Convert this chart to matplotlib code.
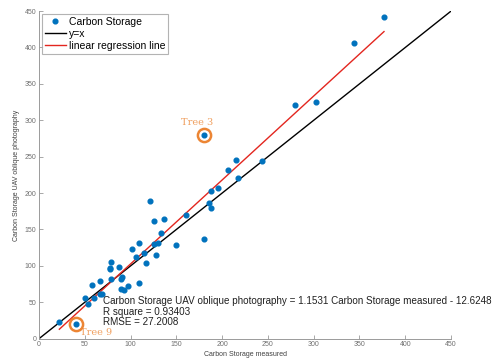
import matplotlib
matplotlib.use("Agg")
import matplotlib.pyplot as plt
import numpy as np

plt.rcParams['font.family'] = ['Liberation Sans', 'DejaVu Sans']

measured = [22.2, 40.4, 49.9, 53.9, 60.4, 57.9, 66.6, 66.6, 68.8, 78.6, 77.9, 77.9,
            78.6, 87.4, 89.6, 90.3, 89.2, 92.8, 97.6, 101.6, 105.6, 109.2, 109.2,
            114.7, 116.9, 121.6, 126.0, 127.4, 126.0, 130.0, 133.6, 136.1, 149.3,
            160.9, 179.8, 185.7, 188.2, 187.8, 195.9, 206.8, 214.8, 217.7, 243.2,
            279.6, 302.9, 344.0, 376.8, 179.9]
uav = [22.5, 19.7, 56.4, 48.2, 55.5, 74.3, 79.4, 61.0, 61.0, 105.5, 97.2, 95.4,
       81.7, 98.2, 82.1, 84.4, 68.8, 67.0, 72.0, 122.5, 112.4, 132.1, 76.1,
       117.9, 104.6, 189.0, 161.5, 115.1, 129.8, 131.2, 145.0, 164.7, 128.4,
       169.3, 137.6, 186.2, 203.2, 179.8, 206.4, 231.7, 245.9, 220.7, 244.5,
       321.6, 324.8, 405.5, 441.3, 280.3]
slope = 1.1531
intercept = -12.6248
r_square = 0.93403
rmse = 27.2008
highlight_names = ["Tree 3", "Tree 9"]
highlight_xy = [(179.9, 280.3), (40.4, 19.7)]
ticks = [0, 50, 100, 150, 200, 250, 300, 350, 400, 450]

fig = plt.figure(figsize=(4.94, 3.58), dpi=100)
ax = fig.add_axes([0.079, 0.054, 0.834, 0.915])

ax.plot(measured, uav, 'o', color='#0072BD', markersize=3.4, label='Carbon Storage', zorder=3)
xl = np.array([0, 450])
ax.plot(xl, xl, color='black', lw=1.0, label='y=x', zorder=2)
xr = np.array([min(measured), max(measured)])
ax.plot(xr, slope * xr + intercept, color='#E3261F', lw=1.0, label='linear regression line', zorder=2)

ax.set_xlim(0, 450)
ax.set_ylim(0, 450)
ax.set_xticks(ticks)
ax.set_yticks(ticks)
for s in ['top', 'right']:
    ax.spines[s].set_visible(False)
for s in ['left', 'bottom']:
    ax.spines[s].set_color('#9a9a9a')
    ax.spines[s].set_linewidth(0.7)
ax.tick_params(direction='in', length=3, width=0.6, color='#9a9a9a',
               labelsize=5, labelcolor='#707070', pad=2)
ax.set_xlabel('Carbon Storage measured', fontsize=5, color='#404040', labelpad=2)
ax.set_ylabel('Carbon Storage UAV oblique photography', fontsize=5, color='#404040', labelpad=3)

leg = ax.legend(loc='upper left', fontsize=7.5, frameon=True, fancybox=False,
                edgecolor='#a0a0a0', borderpad=0.25, handlelength=2.0,
                handletextpad=0.3, labelspacing=0.2, borderaxespad=0.3)
leg.get_frame().set_linewidth(0.8)

ax.text(0.156, 0.082,
        f'Carbon Storage UAV oblique photography = {slope} Carbon Storage measured - {abs(intercept)}\n'
        f'R square = {r_square}\nRMSE = {rmse}',
        transform=ax.transAxes, fontsize=7.1, color='#202020', linespacing=1.05, va='center')

for name, (hx, hy) in zip(highlight_names, highlight_xy):
    ax.plot([hx], [hy], 'o', markersize=9.5, markerfacecolor='none',
            markeredgecolor='#EC8534', markeredgewidth=1.8, zorder=4)
for name, (hx, hy), off in zip(highlight_names, highlight_xy, [(-5, 9), (14.5, -6)]):
    ax.annotate(name, (hx, hy), xytext=off, textcoords='offset points',
                ha='center', va='center', fontsize=7, color='#F0A060',
                family='DejaVu Serif')

fig.savefig('out.png', dpi=100)
